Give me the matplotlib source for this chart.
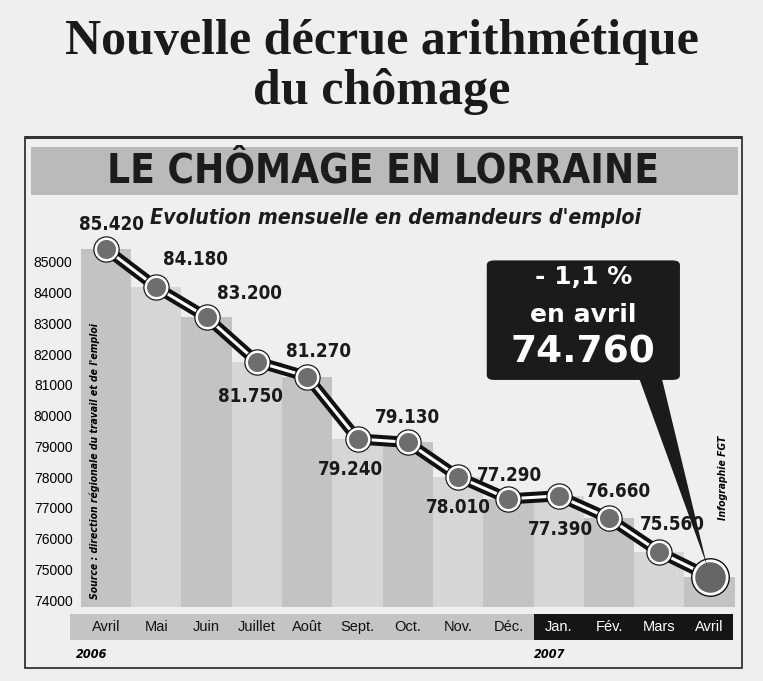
import matplotlib
matplotlib.use("Agg")
import matplotlib.pyplot as plt
from matplotlib.patches import Rectangle, FancyBboxPatch, Polygon
import matplotlib.transforms as mtransforms

# ---- data ----
months = ["Avril", "Mai", "Juin", "Juillet", "Août", "Sept.", "Oct.", "Nov.",
          "Déc.", "Jan.", "Fév.", "Mars", "Avril"]
values = [85420, 84180, 83200, 81750, 81270, 79240, 79130, 78010,
          77290, 77390, 76660, 75560, 74760]
value_labels = ["85.420", "84.180", "83.200", "81.750", "81.270", "79.240",
                "79.130", "78.010", "77.290", "77.390", "76.660", "75.560", ""]
ytick_values = [74000, 75000, 76000, 77000, 78000, 79000, 80000, 81000,
                82000, 83000, 84000, 85000]
years = ["2006", "2007"]
callout_lines = ["- 1,1 %", "en avril", "74.760"]

# label offsets (points) - layout only
label_offsets = [(4, 18), (28, 20), (31, 17), (-5, -25), (8, 18), (-5, -22),
                 (0, 18), (0, -22), (1, 17), (1, -24), (7, 19), (9, 20), (0, 0)]

BG = "#efefef"
fig = plt.figure(figsize=(7.63, 6.81), dpi=100, facecolor=BG)

# Titles
fig.text(0.5, 0.938, "Nouvelle décrue arithmétique", ha="center", va="center",
         fontsize=36, fontweight="bold", family="Liberation Serif", color="#1a1a1a")
fig.text(0.5, 0.866, "du chômage", ha="center", va="center",
         fontsize=36, fontweight="bold", family="Liberation Serif", color="#1a1a1a")

# Outer frame
fig.patches.append(Rectangle((0.033, 0.019), 0.9395, 0.780, transform=fig.transFigure,
                             fill=False, edgecolor="#222222", linewidth=1.2))
fig.patches.append(Rectangle((0.033, 0.796), 0.9395, 0.004, transform=fig.transFigure,
                             facecolor="#333333", edgecolor="none"))
# header band
fig.patches.append(Rectangle((0.040, 0.713), 0.927, 0.071, transform=fig.transFigure,
                             facecolor="#bababa", edgecolor="none"))
fig.text(0.502, 0.748, "LE CHÔMAGE EN LORRAINE", ha="center", va="center",
         fontsize=29, fontweight="bold", family="DejaVu Sans",
         fontstretch="condensed", color="#1c1c1c")
fig.text(0.518, 0.680, "Evolution mensuelle en demandeurs d'emploi", ha="center",
         va="center", fontsize=15.3, fontweight="bold", style="italic",
         family="DejaVu Sans", fontstretch="condensed", color="#1c1c1c")

ax = fig.add_axes([0.106, 0.109, 0.857, 0.547])
ax.set_facecolor("none")
x = list(range(len(months)))

bar_colors = ["#c3c3c3" if i % 2 == 0 else "#d6d6d6" for i in x]
ax.bar(x, [v - 73780 for v in values], bottom=73780, width=1.0,
       color=bar_colors, edgecolor="none", zorder=1)

# double line
ax.plot(x, values, color="#111111", linewidth=8, solid_capstyle="round", zorder=3)
ax.plot(x, values, color="white", linewidth=2.2, solid_capstyle="round", zorder=4)

# markers
ax.plot(x[:-1], values[:-1], "o", markersize=18, color="#111111", zorder=5)
ax.plot(x[:-1], values[:-1], "o", markersize=15.5, markerfacecolor="#6e6e6e",
        markeredgecolor="white", markeredgewidth=1.8, zorder=6)
ax.plot(x[-1:], values[-1:], "o", markersize=27, color="#111111", zorder=5)
ax.plot(x[-1:], values[-1:], "o", markersize=24, markerfacecolor="#666666",
        markeredgecolor="white", markeredgewidth=2, zorder=6)

for xi, v, lab, off in zip(x, values, value_labels, label_offsets):
    if lab:
        ax.annotate(lab, (xi, v), xytext=off, textcoords="offset points",
                    ha="center", va="center", fontsize=13.5, fontweight="bold",
                    family="DejaVu Sans", fontstretch="condensed",
                    color="#1a1a1a", zorder=7)

ax.set_xlim(-0.5, len(months) - 0.5)
ax.set_ylim(73780, 85900)
ax.set_yticks(ytick_values)
ax.set_yticklabels([str(t) for t in ytick_values], fontsize=10,
                   family="Liberation Sans")
ax.tick_params(axis="y", length=0, pad=6)
ax.set_xticks([])
for s in ax.spines.values():
    s.set_visible(False)

# month band
trans = mtransforms.blended_transform_factory(ax.transData, ax.transAxes)
ax.add_patch(Rectangle((-0.72, -0.089), 9.22, 0.070, transform=trans,
                       facecolor="#c4c4c4", edgecolor="none", clip_on=False))
ax.add_patch(Rectangle((8.5, -0.089), 3.96, 0.070, transform=trans,
                       facecolor="#151515", edgecolor="none", clip_on=False))
for xi, m in zip(x, months):
    ax.text(xi, -0.054, m, transform=trans, ha="center", va="center",
            fontsize=10.5, family="Liberation Sans",
            color="white" if xi >= 9 else "#111111", clip_on=False)
ax.text(-0.28, -0.128, years[0], transform=trans, ha="center", va="center",
        fontsize=9, fontweight="bold", style="italic", family="DejaVu Sans",
        fontstretch="condensed", clip_on=False)
ax.text(8.82, -0.128, years[1], transform=trans, ha="center", va="center",
        fontsize=9, fontweight="bold", style="italic", family="DejaVu Sans",
        fontstretch="condensed", clip_on=False)

# source & credit
ax.text(0.021, 0.02, "Source : direction régionale du travail et de l'emploi",
        transform=ax.transAxes, rotation=90, ha="center", va="bottom",
        fontsize=7.5, fontweight="bold", style="italic", family="DejaVu Sans",
        fontstretch="condensed", zorder=8)
ax.text(0.982, 0.345, "Infographie FGT", transform=ax.transAxes, rotation=90,
        ha="center", va="center", fontsize=7.5, fontweight="bold", style="italic",
        family="DejaVu Sans", fontstretch="condensed", zorder=8)

# callout
bx0, bx1, by0, by1 = 7.57, 11.41, 81160, 85050
ax.add_patch(FancyBboxPatch((bx0, by0), bx1 - bx0, by1 - by0,
                            boxstyle="round,pad=0,rounding_size=0.15",
                            facecolor="#1b1b1b", edgecolor="none", zorder=9,
                            mutation_aspect=1000))
ax.add_patch(Polygon([(10.6, by0 + 50), (11.05, by0 + 50), (x[-1] - 0.05, values[-1] + 350)],
                     closed=True, facecolor="#1b1b1b", edgecolor="none", zorder=9))
cx = (bx0 + bx1) / 2
ax.text(cx, 84500, callout_lines[0], ha="center", va="center", color="white",
        fontsize=18, fontweight="bold", family="DejaVu Sans", zorder=10)
ax.text(cx, 83280, callout_lines[1], ha="center", va="center", color="white",
        fontsize=18, fontweight="bold", family="DejaVu Sans", zorder=10)
ax.text(cx, 82050, callout_lines[2], ha="center", va="center", color="white",
        fontsize=27, fontweight="bold", family="DejaVu Sans", zorder=10)

fig.savefig("out.png", dpi=100, facecolor=BG)
